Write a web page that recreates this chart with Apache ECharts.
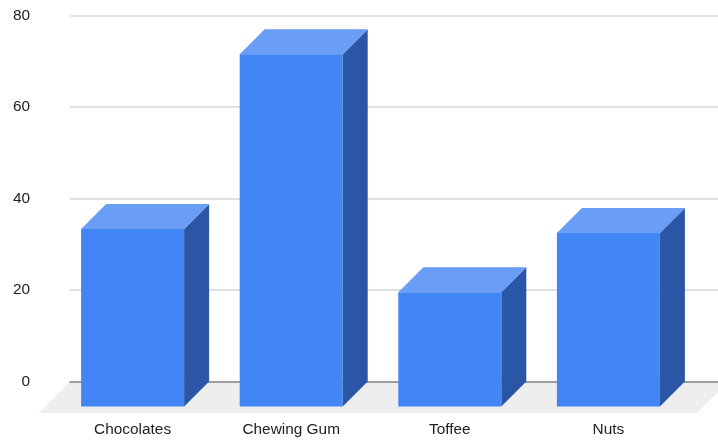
<!DOCTYPE html>
<html>
<head>
<meta charset="utf-8">
<style>html,body{margin:0;padding:0;background:#fff}#c{width:718px;height:443px}</style>
<script src="https://cdn.jsdelivr.net/npm/echarts@6/dist/echarts.min.js"></script>
</head>
<body>
<div id="c"></div>
<script>
const categories = ['Chocolates', 'Chewing Gum', 'Toffee', 'Nuts'];
const values = [38.8, 77, 25, 37.9];
const yTicks = [0, 20, 40, 60, 80];

const depth = 25, barWidth = 103;
const font = '"Liberation Sans", Arial, sans-serif';
const chart = echarts.init(document.getElementById('c'), null, {renderer: 'canvas'});

function renderBar(params, api) {
  const base = api.coord([api.value(0), 0]);
  const top = api.coord([api.value(0), api.value(1)]);
  const l = base[0] - barWidth / 2, r = base[0] + barWidth / 2;
  const b = base[1], t = top[1];
  return {
    type: 'group',
    children: [
      {type: 'polygon', shape: {points: [[r, t], [r + depth, t - depth], [r + depth, b - depth], [r, b]]},
       style: {fill: '#2A56A5'}},
      {type: 'polygon', shape: {points: [[l, t], [l + depth, t - depth], [r + depth, t - depth], [r, t]]},
       style: {fill: '#6A9DF6'}},
      {type: 'rect', shape: {x: l, y: t, width: barWidth, height: b - t},
       style: {fill: '#4285F4'}}
    ]
  };
}

chart.setOption({
  animation: false,
  backgroundColor: '#fff',
  graphic: [{
    type: 'polygon', z: -1, silent: true,
    shape: {points: [[70, 382], [718, 382], [718, 392], [697, 413], [39, 413]]},
    style: {fill: '#EEEEEE'}
  }],
  grid: [
    {left: 70, right: 0, top: 15.5, height: 366},
    {left: 53.3, width: 634.4, top: 40.5, height: 366}
  ],
  xAxis: [
    {gridIndex: 0, type: 'value', min: 0, max: 1, show: true,
     axisLine: {show: true, onZero: true, lineStyle: {color: '#888888', width: 1.5}},
     axisTick: {show: false}, axisLabel: {show: false}, splitLine: {show: false}},
    {gridIndex: 1, type: 'category', data: categories,
     axisLine: {show: false}, axisTick: {show: false},
     axisLabel: {color: '#222222', fontFamily: font, fontSize: 15.4, margin: 16}}
  ],
  yAxis: [
    {gridIndex: 0, type: 'value', min: 0, max: 80, interval: 20,
     axisLine: {show: false}, axisTick: {show: false},
     axisLabel: {color: '#222222', fontFamily: font, fontSize: 15.4, margin: 40,
       formatter: v => yTicks.includes(v) ? String(v) : ''},
     splitLine: {show: true, lineStyle: {color: '#D6D6D6', width: 1.5}}},
    {gridIndex: 1, type: 'value', min: 0, max: 80, show: false, splitLine: {show: false}}
  ],
  series: [{
    type: 'custom', xAxisIndex: 1, yAxisIndex: 1, clip: false, z: 5,
    data: values.map((v, i) => [i, v]),
    encode: {x: 0, y: 1},
    renderItem: renderBar
  }]
});
</script>
</body>
</html>
